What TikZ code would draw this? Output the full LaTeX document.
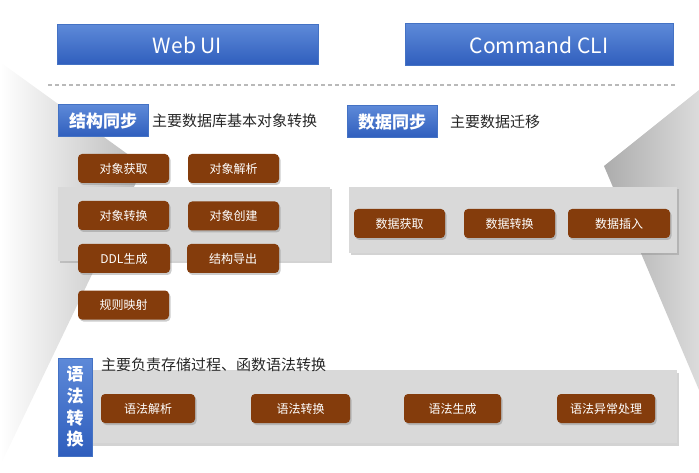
\documentclass[tikz,border=0pt]{standalone}
\usepackage{fontspec}
\setmainfont{Noto Sans CJK SC}
\usetikzlibrary{shadows}
\definecolor{hdline}{HTML}{4472C4}
\definecolor{hdtop}{HTML}{5D89D8}
\definecolor{hdbot}{HTML}{2F5EBD}
\definecolor{taskbrown}{HTML}{843C0C}
\definecolor{panelgray}{HTML}{D9D9D9}
\tikzset{
  headbox/.style={draw=hdline, line width=1pt, top color=hdtop, bottom color=hdbot,
    text=white, inner sep=0pt},
  panel/.style={fill=panelgray, inner sep=0pt,
    drop shadow={shadow xshift=2pt, shadow yshift=-2.5pt, opacity=0.35}},
  task/.style={fill=taskbrown, rounded corners=4pt, text=white, inner sep=0pt,
    minimum height=29pt, font=\fontsize{12}{14}\selectfont,
    drop shadow={shadow xshift=1.5pt, shadow yshift=-2pt, opacity=0.4}},
  note/.style={anchor=west, inner sep=0pt, text=black!85, font=\fontsize{15}{17}\selectfont},
}
\begin{document}
\begin{tikzpicture}[x=1pt, y=-1pt]
  \useasboundingbox (0,0) rectangle (699,473);
  % background wedges
  \shade[left color=white, right color=gray!55] (0,62) -- (144,166) -- (0,466) -- cycle;
  \shade[left color=gray!65, right color=gray!28] (699,90) -- (604,166) -- (699,390) -- cycle;
  % entry points
  \node[headbox, minimum width=261pt, minimum height=40pt, font=\fontsize{21}{24}\selectfont]
    (webui) at (187.5,45) {Web UI};
  \node[headbox, minimum width=268pt, minimum height=42pt, font=\fontsize{21}{24}\selectfont]
    (cli) at (539,45) {Command CLI};
  \draw[gray!55, line width=1.5pt, dash pattern=on 4pt off 3pt] (48,85) -- (675,85);
  % panels
  \node[panel, minimum width=272pt, minimum height=74pt] (structpanel) at (194,224) {};
  \node[panel, minimum width=328pt, minimum height=66pt] (datapanel) at (513,220) {};
  \node[panel, minimum width=597pt, minimum height=73pt] (syntaxpanel) at (378.5,406.5) {};
  % section headers
  \node[headbox, minimum width=90pt, minimum height=32pt, font=\fontsize{17}{20}\selectfont\bfseries]
    (structhd) at (103,121) {结构同步};
  \node[note] (structnote) at (152,121) {主要数据库基本对象转换};
  \node[headbox, minimum width=90pt, minimum height=32pt, font=\fontsize{17}{20}\selectfont\bfseries]
    (datahd) at (392,122) {数据同步};
  \node[note] (datanote) at (450,122) {主要数据迁移};
  \node[headbox, minimum width=34pt, minimum height=98pt, align=center,
    font=\fontsize{17}{21.7}\selectfont\bfseries]
    (syntaxhd) at (75,407) {语\\法\\转\\换};
  \node[note] (syntaxnote) at (101,365) {主要负责存储过程、函数语法转换};
  % tasks
  \foreach \n/\x/\y/\w/\t in {objget/123.5/168.5/91/对象获取, objparse/233.5/168.5/91/对象解析,
      objconv/123.5/215.5/91/对象转换, objcreate/233.5/216/91/对象创建,
      ddlgen/124/258.5/92/DDL生成, structexp/233/258.5/92/结构导出,
      rulemap/123.5/305/91/规则映射,
      dataget/399.5/223.5/91/数据获取, dataconv/509.5/223.5/91/数据转换,
      datains/619/223.5/102/数据插入,
      synparse/148/408.5/94/语法解析, synconv/300.5/408.5/99/语法转换,
      syngen/452.5/408.5/97/语法生成, synerr/606/408.5/98/语法异常处理} {%
    \node[task, minimum width=\w pt] (\n) at (\x,\y) {\t};
  }
\end{tikzpicture}
\end{document}
